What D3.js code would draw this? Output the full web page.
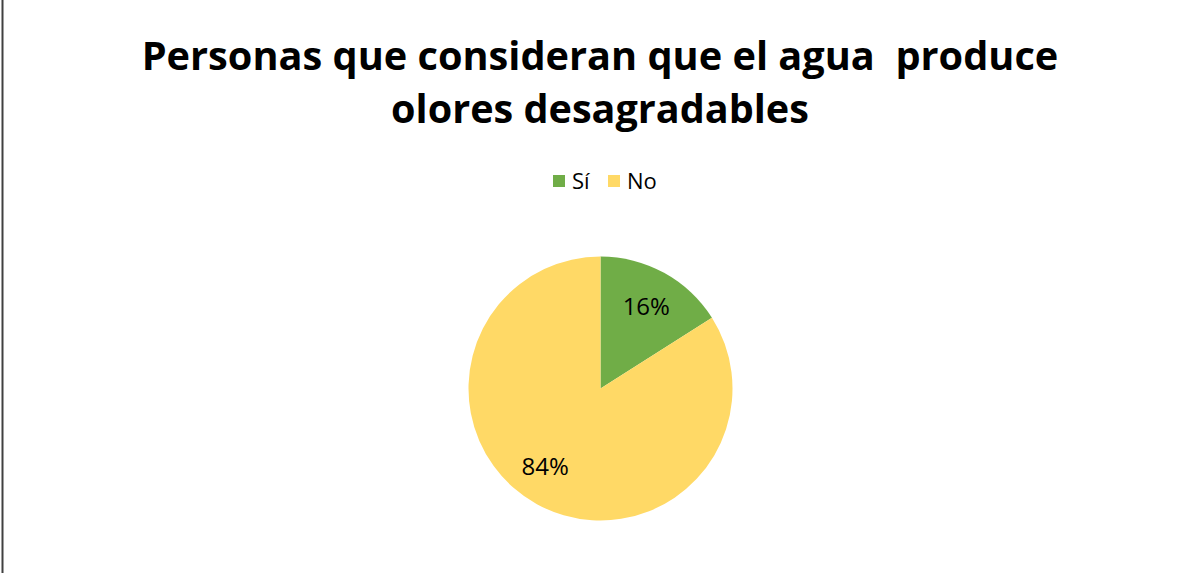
<!DOCTYPE html>
<html>
<head>
<meta charset="utf-8">
<script src="https://cdn.jsdelivr.net/npm/d3@7"></script>
<style>
  html, body { margin: 0; padding: 0; background: #fff; }
  svg { display: block; }
  text { font-family: "Open Sans", "Lato", sans-serif; }
</style>
</head>
<body>
<svg id="chart" width="1199" height="573"></svg>
<script>
// Survey answers
const categories = ["Sí", "No"];
const values = [16, 84];
const valueLabels = ["16%", "84%"];
const titleLines = ["Personas que consideran que el agua  produce", "olores desagradables"];
const colors = ["#70AD47", "#FFD966"];

const W = 1199, H = 573;
const svg = d3.select("#chart");

svg.append("rect").attr("width", W).attr("height", H).attr("fill", "#fff");
// chart frame edge
svg.append("line")
  .attr("x1", 2.5).attr("x2", 2.5).attr("y1", 0).attr("y2", H)
  .attr("stroke", "#404040").attr("stroke-width", 2);

// Title
const title = svg.append("g");
const titleBaselines = [70, 123];
const titleWidths = [917, 418];
titleLines.forEach((t, i) => {
  const el = title.append("text")
    .attr("x", 600).attr("y", titleBaselines[i])
    .attr("text-anchor", "middle")
    .style("white-space", "pre")
    .attr("font-weight", "bold")
    .attr("font-size", 40)
    .attr("fill", "#000")
    .text(t);
  const w = el.node().getComputedTextLength();
  el.attr("font-size", 40 * titleWidths[i] / w);
});

// Legend
const legend = svg.append("g");
const legendX = [553, 608];
categories.forEach((c, i) => {
  legend.append("rect")
    .attr("x", legendX[i]).attr("y", 175)
    .attr("width", 12).attr("height", 12)
    .attr("fill", colors[i]);
  legend.append("text")
    .attr("x", legendX[i] + 19).attr("y", 189)
    .attr("font-size", 22).attr("fill", "#000")
    .text(c);
});

// Pie
const cx = 600.5, cy = 388.5, r = 132;
const pie = d3.pie().sort(null).value(d => d)(values);
const arc = d3.arc().innerRadius(0).outerRadius(r);
const labelArc = d3.arc().innerRadius(r * 0.72).outerRadius(r * 0.72);

const g = svg.append("g").attr("transform", `translate(${cx},${cy})`);
g.selectAll("path.slice")
  .data(pie)
  .join("path")
  .attr("class", "slice")
  .attr("d", arc)
  .attr("fill", (d, i) => colors[i]);

// the large slice's label sits a little further round, as the layout puts it
const labelShift = [0, 0.12];
g.selectAll("text.lbl")
  .data(pie)
  .join("text")
  .attr("class", "lbl")
  .attr("transform", (d, i) => {
    const m = (d.startAngle + d.endAngle) / 2 + labelShift[i];
    return `translate(${labelArc.centroid({startAngle: m, endAngle: m})})`;
  })
  .attr("text-anchor", "middle")
  .attr("dominant-baseline", "central")
  .attr("font-size", 24)
  .attr("fill", "#000")
  .text((d, i) => valueLabels[i]);
</script>
</body>
</html>
